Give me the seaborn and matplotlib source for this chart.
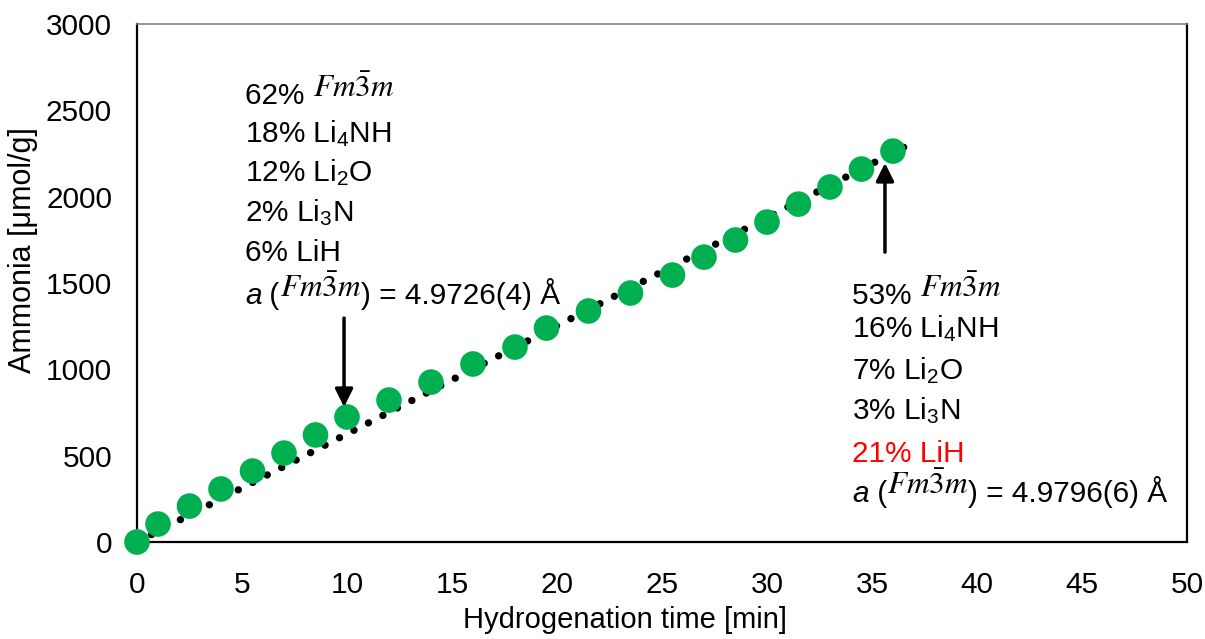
import numpy as np
import pandas as pd
import matplotlib
matplotlib.use("Agg")
import matplotlib.pyplot as plt
import matplotlib.transforms as mtransforms
import seaborn as sns

# ---- data ----
time_min = [0, 1, 2.5, 4, 5.5, 7, 8.5, 10, 12, 14, 16, 18, 19.5, 21.5, 23.5,
            25.5, 27, 28.5, 30, 31.5, 33, 34.5, 36]
ammonia = [0, 104, 208, 307, 411, 515, 620, 724, 822, 926, 1031, 1129, 1239,
           1338, 1442, 1546, 1650, 1749, 1853, 1957, 2056, 2160, 2264]
x_ticks = list(range(0, 51, 5))
y_ticks = list(range(0, 3001, 500))
trend_end = 36.6

left_lines = ["18% Li$_4$NH", "12% Li$_2$O", "2% Li$_3$N", "6% LiH"]
right_lines = ["16% Li$_4$NH", "7% Li$_2$O", "3% Li$_3$N", "21% LiH"]
left_first = "62% "
right_first = "53% "
left_a = "4.9726(4) Å"
right_a = "4.9796(6) Å"

sns.set_theme(style="white")
plt.rcParams["font.family"] = ["Liberation Sans", "DejaVu Sans"]
plt.rcParams["text.color"] = "black"
plt.rcParams["axes.labelcolor"] = "black"
plt.rcParams["mathtext.fontset"] = "custom"
plt.rcParams["mathtext.rm"] = "Liberation Sans"
plt.rcParams["mathtext.it"] = "Liberation Sans:italic"

df = pd.DataFrame({"t": time_min, "nh3": ammonia})
t = np.array(time_min, float)
yv = np.array(ammonia, float)
slope = (t * yv).sum() / (t * t).sum()
trend = pd.DataFrame({"t": [0, trend_end], "nh3": [0, slope * trend_end]})

fig = plt.figure(figsize=(12.05, 6.39), dpi=100)
ax = fig.add_axes([0.1137, 0.1518, 0.8713, 0.8106])

sns.lineplot(data=trend, x="t", y="nh3", ax=ax, color="black", lw=5.3,
             zorder=2)
ln = ax.lines[-1]
ln.set_linestyle((0, (0.01, 2.2)))
ln.set_dash_capstyle("round")
ln.set_clip_on(False)

sns.scatterplot(data=df, x="t", y="nh3", ax=ax, color="#00B050", s=340,
                edgecolor="none", zorder=3, legend=False, clip_on=False)

ax.set_xlim(0, 50)
ax.set_ylim(0, 3000)
ax.set_xticks(x_ticks)
ax.set_yticks(y_ticks)
ax.tick_params(axis="both", direction="in", length=6, width=1.5,
               labelsize=21.4, colors="black")
ax.tick_params(axis="x", pad=21)
ax.tick_params(axis="y", pad=18)
ax.set_xlabel("Hydrogenation time [min]", fontsize=21)
ax.set_ylabel("Ammonia [μmol/g]", fontsize=22)
ax.xaxis.label.set_va("center")
ax.xaxis.set_label_coords(0.4648, -0.1506)
ax.yaxis.label.set_va("center")
ax.yaxis.set_label_coords(-0.1086, 0.564)

for side in ["left", "bottom", "right"]:
    ax.spines[side].set_color("black")
    ax.spines[side].set_linewidth(1.6)
ax.spines["top"].set_color("#7f7f7f")
ax.spines["top"].set_linewidth(1.2)

fm = r"$\mathit{Fm}\bar{3}\mathit{m}$"
fs = 21.4
fs_fm = 22.5
rise = 5.4  # points
renderer = fig.canvas.get_renderer()


def chain(x0, yb, pieces):
    """pieces: list of (text, kwargs, dy_points). Placed side by side."""
    dx = 0.0
    for s, kw, dy in pieces:
        tr = ax.transData + mtransforms.ScaledTranslation(dx / 72, dy / 72,
                                                          fig.dpi_scale_trans)
        txt = ax.text(x0, yb, s, transform=tr, va="baseline", ha="left", **kw)
        w = txt.get_window_extent(renderer).width  # pixels
        dx += w * 72 / fig.dpi


def block(x0, baselines, first, lines, aval, red_last=False):
    stix = dict(fontsize=fs_fm, math_fontfamily="stix")
    chain(x0, baselines[0], [(first, dict(fontsize=fs), 0), (fm, stix, rise)])
    for i, (yb, s) in enumerate(zip(baselines[1:-1], lines)):
        col = "#FF0000" if (red_last and i == len(lines) - 1) else "black"
        ax.text(x0, yb, s, fontsize=fs, color=col, va="baseline", ha="left")
    chain(x0, baselines[-1], [
        ("a", dict(fontsize=fs, style="italic"), 0),
        (" (", dict(fontsize=fs), 0),
        (fm, stix, rise),
        (") = " + aval, dict(fontsize=fs), 0),
    ])


block(5.14, [2536, 2316, 2090, 1859, 1627, 1378], left_first, left_lines, left_a)
block(34.05, [1378, 1187, 944, 712, 463, 232], right_first, right_lines, right_a,
      red_last=True)

arrow_kw = dict(arrowstyle="-|>,head_width=0.45,head_length=0.9", color="black",
                lw=2.5, shrinkA=0, shrinkB=0)
ax.annotate("", xy=(9.86, 782), xytext=(9.86, 1297), arrowprops=arrow_kw)
ax.annotate("", xy=(35.62, 2195), xytext=(35.62, 1679), arrowprops=arrow_kw)

fig.savefig("out.png", dpi=100)
